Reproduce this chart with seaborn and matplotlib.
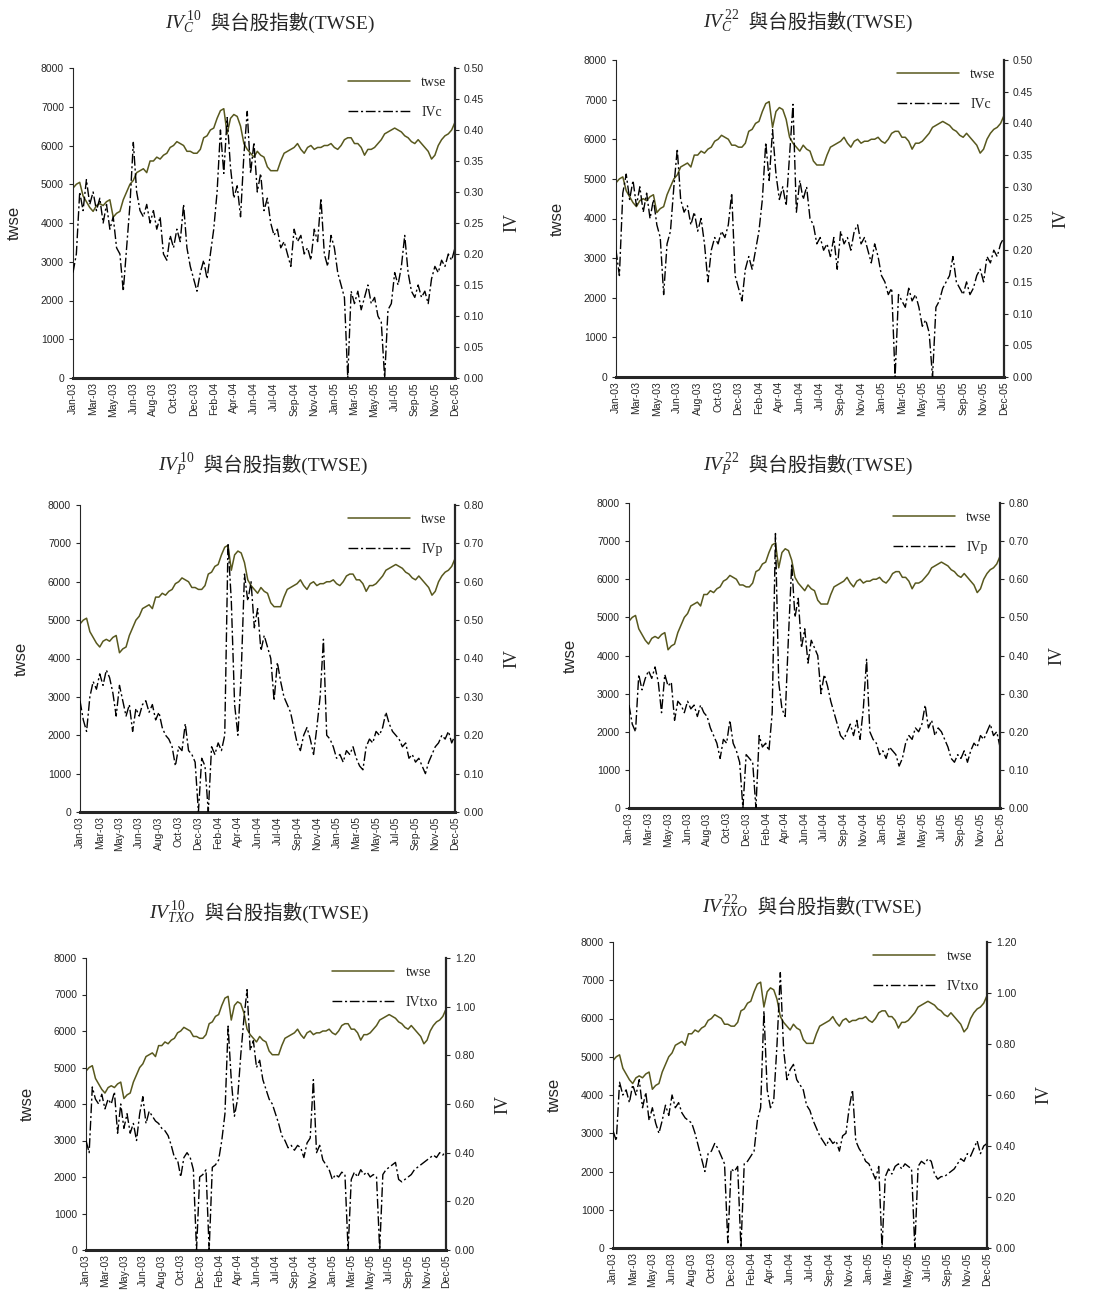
import numpy as np
import pandas as pd
import matplotlib
matplotlib.use("Agg")
import matplotlib.pyplot as plt
import seaborn as sns

# tick labels on the category axis (every 6th sample)
tick_labels = ["Jan-03", "Mar-03", "May-03", "Jun-03", "Aug-03", "Oct-03", "Dec-03",
               "Feb-04", "Apr-04", "Jun-04", "Jul-04", "Sep-04", "Nov-04", "Jan-05",
               "Mar-05", "May-05", "Jul-05", "Sep-05", "Nov-05", "Dec-05"]

# TWSE index, sampled roughly every 6-7 trading days
twse = [4900, 5000, 5050, 4700, 4550, 4400, 4300, 4450, 4500, 4450,
        4550, 4600, 4150, 4250, 4300, 4600, 4800, 5000, 5100, 5300,
        5350, 5400, 5300, 5600, 5600, 5700, 5650, 5750, 5800, 5950,
        6000, 6100, 6050, 6000, 5850, 5850, 5800, 5800, 5900, 6200,
        6250, 6400, 6450, 6700, 6900, 6950, 6300, 6700, 6800, 6750,
        6500, 6050, 5900, 5800, 5700, 5850, 5750, 5700, 5450, 5350,
        5350, 5350, 5600, 5800, 5850, 5900, 5950, 6050, 5900, 5800,
        5950, 6000, 5900, 5950, 5950, 6000, 6000, 6050, 5950, 5900,
        6000, 6150, 6200, 6200, 6050, 6050, 5950, 5750, 5900, 5900,
        5950, 6050, 6150, 6300, 6350, 6400, 6450, 6400, 6350, 6250,
        6200, 6100, 6050, 6150, 6050, 5950, 5850, 5650, 5750, 6000,
        6150, 6250, 6300, 6400, 6600]

iv_c10 = [0.17, 0.20, 0.30, 0.27, 0.32, 0.28, 0.30, 0.27, 0.29, 0.25,
          0.28, 0.24, 0.26, 0.21, 0.20, 0.14, 0.21, 0.28, 0.38, 0.30,
          0.27, 0.26, 0.28, 0.25, 0.27, 0.24, 0.26, 0.20, 0.19, 0.23,
          0.21, 0.24, 0.22, 0.28, 0.21, 0.18, 0.16, 0.14, 0.17, 0.19,
          0.16, 0.20, 0.24, 0.30, 0.40, 0.33, 0.42, 0.34, 0.29, 0.31,
          0.26, 0.36, 0.43, 0.33, 0.38, 0.30, 0.33, 0.27, 0.29, 0.25,
          0.23, 0.24, 0.21, 0.22, 0.20, 0.18, 0.24, 0.22, 0.23, 0.20,
          0.21, 0.19, 0.24, 0.22, 0.29, 0.20, 0.18, 0.23, 0.21, 0.17,
          0.15, 0.13, 0.00, 0.14, 0.12, 0.14, 0.11, 0.13, 0.15, 0.12,
          0.13, 0.10, 0.09, 0.00, 0.11, 0.12, 0.17, 0.15, 0.18, 0.23,
          0.17, 0.14, 0.13, 0.15, 0.13, 0.14, 0.12, 0.16, 0.18, 0.17,
          0.19, 0.18, 0.20, 0.19, 0.21]

iv_c22 = [0.20, 0.16, 0.29, 0.32, 0.28, 0.31, 0.27, 0.30, 0.26, 0.29,
          0.25, 0.28, 0.24, 0.22, 0.13, 0.21, 0.23, 0.30, 0.36, 0.28,
          0.26, 0.27, 0.24, 0.26, 0.23, 0.25, 0.21, 0.15, 0.20, 0.22,
          0.21, 0.23, 0.22, 0.24, 0.29, 0.16, 0.14, 0.12, 0.17, 0.19,
          0.17, 0.20, 0.23, 0.28, 0.37, 0.31, 0.39, 0.32, 0.28, 0.30,
          0.27, 0.35, 0.43, 0.26, 0.31, 0.28, 0.30, 0.25, 0.24, 0.21,
          0.22, 0.20, 0.21, 0.19, 0.22, 0.17, 0.23, 0.21, 0.22, 0.20,
          0.23, 0.24, 0.21, 0.22, 0.20, 0.18, 0.21, 0.19, 0.16, 0.15,
          0.13, 0.14, 0.00, 0.13, 0.12, 0.11, 0.14, 0.12, 0.13, 0.11,
          0.08, 0.09, 0.07, 0.00, 0.11, 0.12, 0.14, 0.15, 0.16, 0.19,
          0.15, 0.14, 0.13, 0.15, 0.13, 0.14, 0.16, 0.17, 0.15, 0.19,
          0.18, 0.20, 0.19, 0.21, 0.22]

iv_p10 = [0.29, 0.24, 0.21, 0.30, 0.34, 0.32, 0.36, 0.33, 0.37, 0.35,
          0.31, 0.25, 0.33, 0.29, 0.25, 0.28, 0.21, 0.27, 0.25, 0.28,
          0.29, 0.26, 0.28, 0.24, 0.26, 0.22, 0.20, 0.19, 0.17, 0.12,
          0.17, 0.16, 0.23, 0.16, 0.15, 0.13, 0.00, 0.14, 0.12, 0.00,
          0.17, 0.15, 0.18, 0.16, 0.20, 0.70, 0.55, 0.28, 0.20, 0.36,
          0.62, 0.55, 0.60, 0.48, 0.53, 0.42, 0.46, 0.43, 0.40, 0.29,
          0.39, 0.34, 0.30, 0.28, 0.26, 0.22, 0.18, 0.16, 0.20, 0.22,
          0.19, 0.15, 0.22, 0.30, 0.45, 0.20, 0.19, 0.17, 0.14, 0.15,
          0.13, 0.16, 0.15, 0.17, 0.14, 0.12, 0.11, 0.17, 0.19, 0.18,
          0.21, 0.20, 0.22, 0.26, 0.23, 0.21, 0.20, 0.19, 0.17, 0.18,
          0.14, 0.15, 0.13, 0.14, 0.12, 0.10, 0.13, 0.15, 0.17, 0.18,
          0.20, 0.19, 0.21, 0.18, 0.20]

iv_p22 = [0.27, 0.22, 0.20, 0.35, 0.31, 0.34, 0.36, 0.34, 0.37, 0.33,
          0.25, 0.35, 0.32, 0.33, 0.23, 0.28, 0.27, 0.25, 0.28, 0.26,
          0.27, 0.24, 0.27, 0.25, 0.24, 0.21, 0.19, 0.17, 0.13, 0.18,
          0.17, 0.23, 0.17, 0.15, 0.12, 0.00, 0.14, 0.13, 0.12, 0.00,
          0.19, 0.16, 0.17, 0.15, 0.25, 0.72, 0.33, 0.26, 0.24, 0.45,
          0.64, 0.50, 0.55, 0.42, 0.47, 0.38, 0.44, 0.42, 0.40, 0.30,
          0.35, 0.32, 0.28, 0.25, 0.22, 0.19, 0.18, 0.20, 0.22, 0.19,
          0.23, 0.18, 0.26, 0.39, 0.20, 0.18, 0.17, 0.14, 0.15, 0.13,
          0.16, 0.15, 0.14, 0.11, 0.13, 0.17, 0.19, 0.18, 0.21, 0.20,
          0.22, 0.27, 0.21, 0.23, 0.19, 0.21, 0.20, 0.18, 0.16, 0.13,
          0.12, 0.14, 0.13, 0.15, 0.12, 0.15, 0.17, 0.16, 0.19, 0.18,
          0.20, 0.22, 0.19, 0.20, 0.16]

iv_txo10 = [0.45, 0.40, 0.67, 0.62, 0.60, 0.64, 0.58, 0.62, 0.60, 0.65,
            0.48, 0.60, 0.50, 0.56, 0.48, 0.52, 0.45, 0.56, 0.63, 0.52,
            0.57, 0.55, 0.53, 0.52, 0.50, 0.49, 0.47, 0.43, 0.38, 0.37,
            0.30, 0.38, 0.40, 0.38, 0.33, 0.00, 0.30, 0.31, 0.33, 0.00,
            0.34, 0.35, 0.37, 0.45, 0.56, 0.92, 0.70, 0.55, 0.62, 0.80,
            0.95, 1.07, 0.82, 0.86, 0.75, 0.78, 0.70, 0.66, 0.62, 0.60,
            0.56, 0.52, 0.47, 0.45, 0.42, 0.43, 0.41, 0.43, 0.42, 0.38,
            0.44, 0.46, 0.70, 0.40, 0.43, 0.37, 0.35, 0.33, 0.29, 0.31,
            0.30, 0.32, 0.31, 0.00, 0.29, 0.32, 0.30, 0.33, 0.31, 0.32,
            0.30, 0.31, 0.30, 0.00, 0.31, 0.33, 0.34, 0.35, 0.36, 0.29,
            0.28, 0.29, 0.30, 0.31, 0.33, 0.34, 0.35, 0.36, 0.37, 0.38,
            0.39, 0.38, 0.40, 0.39, 0.41]

iv_txo22 = [0.46, 0.42, 0.65, 0.60, 0.62, 0.57, 0.64, 0.60, 0.66, 0.55,
            0.61, 0.50, 0.55, 0.49, 0.45, 0.50, 0.56, 0.52, 0.60, 0.55,
            0.57, 0.53, 0.51, 0.50, 0.49, 0.45, 0.40, 0.35, 0.30, 0.37,
            0.38, 0.41, 0.39, 0.36, 0.33, 0.02, 0.31, 0.30, 0.32, 0.00,
            0.33, 0.34, 0.36, 0.38, 0.50, 0.55, 0.93, 0.62, 0.55, 0.58,
            0.80, 1.08, 0.78, 0.66, 0.70, 0.72, 0.66, 0.64, 0.62, 0.56,
            0.54, 0.50, 0.47, 0.44, 0.42, 0.40, 0.43, 0.41, 0.42, 0.38,
            0.44, 0.45, 0.55, 0.62, 0.42, 0.39, 0.37, 0.34, 0.33, 0.30,
            0.27, 0.32, 0.00, 0.28, 0.31, 0.29, 0.32, 0.33, 0.31, 0.33,
            0.32, 0.31, 0.00, 0.32, 0.34, 0.33, 0.35, 0.34, 0.29, 0.27,
            0.28, 0.28, 0.29, 0.30, 0.31, 0.33, 0.35, 0.34, 0.37, 0.36,
            0.39, 0.42, 0.37, 0.40, 0.41]

sns.set_theme(style="ticks")
plt.rcParams["font.family"] = ["Liberation Serif", "Noto Sans CJK TC", "DejaVu Sans"]
plt.rcParams["mathtext.fontset"] = "custom"
plt.rcParams["mathtext.it"] = "Liberation Serif:italic"
plt.rcParams["mathtext.rm"] = "Liberation Serif"

tick_font = ["Liberation Sans", "DejaVu Sans"]
olive = "#58581e"

n = len(twse)
idx = np.arange(n)

panels = [
    # (title math, iv, legend label, iv max, iv step, axes rect in px, title pos)
    (r"$IV_C^{\,10}$", iv_c10, "IVc", 0.50, 0.05, (73, 68, 455, 378), (270, 23)),
    (r"$IV_C^{\,22}$", iv_c22, "IVc", 0.50, 0.05, (616, 60, 1004, 377), (808, 22)),
    (r"$IV_P^{\,10}$", iv_p10, "IVp", 0.80, 0.10, (80, 505, 455, 812), (263, 465)),
    (r"$IV_P^{\,22}$", iv_p22, "IVp", 0.80, 0.10, (629, 503, 1000, 808), (808, 465)),
    (r"$IV_{TXO}^{\,10}$", iv_txo10, "IVtxo", 1.20, 0.20, (86, 958, 446, 1250), (259, 913)),
    (r"$IV_{TXO}^{\,22}$", iv_txo22, "IVtxo", 1.20, 0.20, (613, 942, 987, 1248), (812, 907)),
]

W, H = 1099, 1300
fig = plt.figure(figsize=(W / 100, H / 100), dpi=100)
renderer = fig.canvas.get_renderer()

for title, iv, lab, ivmax, ivstep, (x0, y0, x1, y1), (tx, ty) in panels:
    ax = fig.add_axes([x0 / W, 1 - y1 / H, (x1 - x0) / W, (y1 - y0) / H])
    df = pd.DataFrame({"i": idx, "twse": twse, "iv": iv})
    sns.lineplot(data=df, x="i", y="twse", ax=ax, color=olive, lw=1.1, label="twse", legend=False)
    ax2 = ax.twinx()
    sns.lineplot(data=df, x="i", y="iv", ax=ax2, color="black", lw=1.0,
                 linestyle=(0, (7, 2, 1.5, 2)), label=lab, legend=False)

    ax.set_xlim(0, n - 1)
    ax.set_ylim(0, 8000)
    ax.set_yticks(range(0, 8001, 1000))
    ivt = np.arange(0, ivmax + 1e-9, ivstep)
    ax2.set_ylim(0, ivmax)
    ax2.set_yticks(ivt)
    ax2.set_yticklabels([f"{v:.2f}" for v in ivt])
    ax.set_xticks(range(0, n, 6))
    ax.set_xticklabels(tick_labels, rotation=90)

    for a in (ax, ax2):
        a.tick_params(labelsize=7.5, length=3, width=0.8)
        for t in a.get_xticklabels() + a.get_yticklabels():
            t.set_family(tick_font)
        a.spines["top"].set_visible(False)
    ax.spines["left"].set_linewidth(0.8)
    ax.spines["bottom"].set_linewidth(2.2)
    ax2.spines["right"].set_linewidth(1.6)
    ax2.spines["left"].set_visible(False)
    ax2.spines["bottom"].set_visible(False)
    ax.tick_params(axis="x", length=0, pad=3)

    ax.set_xlabel("")
    ax.set_ylabel("twse", fontsize=12, family=tick_font, labelpad=14)
    ax2.set_ylabel("IV", fontsize=13, rotation=90, labelpad=14)

    h1, l1 = ax.get_legend_handles_labels()
    h2, l2 = ax2.get_legend_handles_labels()
    ax2.legend(h1 + h2, l1 + l2, loc="upper right", frameon=False, fontsize=10,
               handlelength=4.5, labelspacing=1.2, borderaxespad=0.2)

    # title: math part and CJK part as two texts, centred together
    t1 = fig.text(0, 1 - ty / H, title, ha="left", va="center", fontsize=14)
    t2 = fig.text(0, 1 - ty / H, "  與台股指數(TWSE)", ha="left", va="center", fontsize=14,
                  family=["Liberation Serif", "Noto Sans CJK TC"])
    w1 = t1.get_window_extent(renderer).width
    w2 = t2.get_window_extent(renderer).width
    start = tx - (w1 + w2) / 2
    t1.set_x(start / W)
    t2.set_x((start + w1) / W)

fig.savefig("out.png", dpi=100, facecolor="white")
